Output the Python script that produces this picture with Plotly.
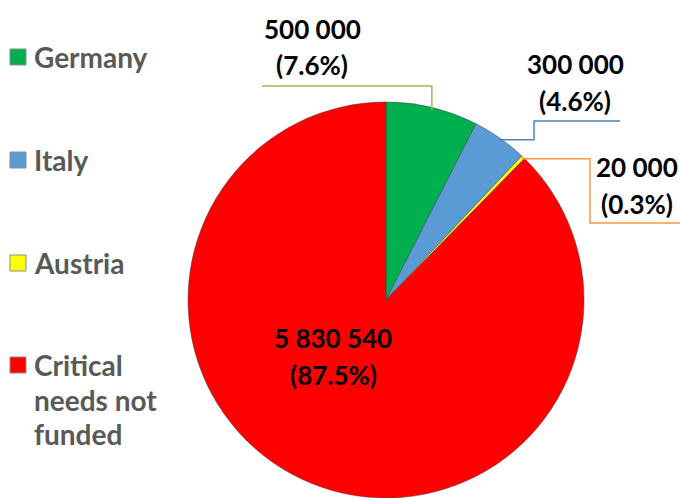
import plotly.graph_objects as go
import math

# ---- data ----
categories = ["Germany", "Italy", "Austria", "Critical needs not funded"]
legend_lines = [["Germany"], ["Italy"], ["Austria"], ["Critical", "needs not", "funded"]]
values = [500000, 300000, 20000, 5830540]
value_labels = ["500 000", "300 000", "20 000", "5 830 540"]
pct_labels = ["(7.6%)", "(4.6%)", "(0.3%)", "(87.5%)"]
colors = ["#00B050", "#5B9BD5", "#FFFF00", "#FF0000"]
line_colors = ["#9BBB59", "#4F81BD", "#F79646", None]

W, H = 680, 498
CX, CY, R = 386, 300, 198  # pie centre/radius in pixels


def px(x):
    return x / W


def py(y):
    return 1 - y / H


fig = go.Figure(go.Pie(
    labels=categories, values=values, sort=False, direction="clockwise",
    rotation=0, textinfo="none", showlegend=False,
    marker=dict(colors=colors, line=dict(color="rgba(60,60,60,0.6)", width=0.8)),
    domain=dict(x=[(CX - R) / W, (CX + R) / W], y=[0, 2 * R / H]),
    hoverinfo="label+value+percent",
))

FONT = "Lato, 'Open Sans', sans-serif"
ann = []
shapes = []

# ---- legend (drawn) ----
legend_y = [57, 160, 263, 365]
for i, lines in enumerate(legend_lines):
    y0 = legend_y[i]
    shapes.append(dict(type="rect", xref="paper", yref="paper",
                       x0=px(10), x1=px(26), y0=py(y0 - 8), y1=py(y0 + 8),
                       fillcolor=colors[i], line=dict(color="#8c8c8c", width=1)))
    for j, t in enumerate(lines):
        ann.append(dict(x=px(32), y=py(y0 + j * 34.5), xref="paper", yref="paper",
                        text=t, showarrow=False, xanchor="left", yanchor="middle",
                        font=dict(family=FONT, size=28, color="#595959", weight="bold")))

# ---- data labels ----
label_pos = [(312, 29), (575, 64), (637, 167), (333, 338)]
for i in range(4):
    lx, ly = label_pos[i]
    for j, t in enumerate([value_labels[i], pct_labels[i]]):
        ann.append(dict(x=px(lx), y=py(ly + j * 36.5), xref="paper", yref="paper",
                        text=t, showarrow=False, xanchor="center", yanchor="middle",
                        font=dict(family=FONT, size=26, color="black", weight="bold")))

# ---- leader lines: start at slice mid-angle on the rim ----
total = sum(values)
cum = 0
anchors = []
for v in values:
    mid = (cum + v / 2) / total * 2 * math.pi
    anchors.append((CX + (R - 2) * math.sin(mid), CY - (R - 2) * math.cos(mid)))
    cum += v

elbows = [
    [(434, 86), (262, 86)],
    [(534, None), (534, 121), (620, 121)],
    [(590, None), (590, 223), (680, 223)],
]
for i, pts in enumerate(elbows):
    ax, ay = anchors[i]
    if i == 0:
        path_pts = [(ax, ay), (ax, 86), (262, 86)]
    else:
        path_pts = [(ax, ay), (pts[0][0], ay), (pts[1][0], pts[1][1]), (pts[2][0], pts[2][1])]
    d = "M " + " L ".join(f"{px(x)},{py(y)}" for x, y in path_pts)
    shapes.append(dict(type="path", xref="paper", yref="paper", path=d,
                       line=dict(color=line_colors[i], width=1.5)))

fig.update_layout(
    width=W, height=H, margin=dict(l=0, r=0, t=0, b=0),
    paper_bgcolor="white", plot_bgcolor="white",
    annotations=ann, shapes=shapes,
)
fig.write_html("out.html", config={"displayModeBar": False},
               post_script="document.body.style.margin='0';document.body.style.overflow='hidden';")
